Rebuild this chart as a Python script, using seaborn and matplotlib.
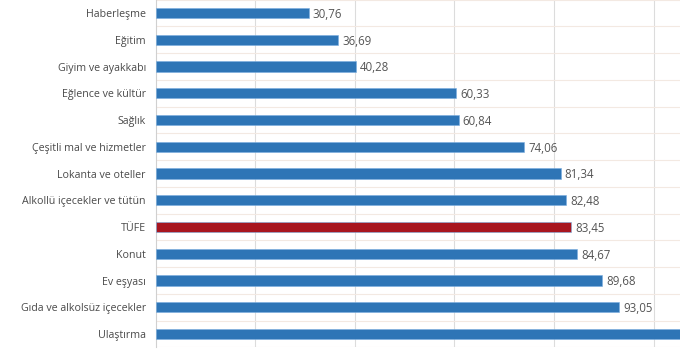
import matplotlib
matplotlib.use("Agg")
import matplotlib.pyplot as plt
import seaborn as sns
import pandas as pd
from matplotlib.ticker import FixedLocator

categories = ["Haberleşme", "Eğitim", "Giyim ve ayakkabı", "Eğlence ve kültür", "Sağlık",
              "Çeşitli mal ve hizmetler", "Lokanta ve oteller", "Alkollü içecekler ve tütün",
              "TÜFE", "Konut", "Ev eşyası", "Gıda ve alkolsüz içecekler", "Ulaştırma"]
values = [30.76, 36.69, 40.28, 60.33, 60.84, 74.06, 81.34, 82.48, 83.45, 84.67, 89.68, 93.05, 117.66]

BLUE = "#2e75b6"
RED = "#a8151f"
colors = [RED if c == "TÜFE" else BLUE for c in categories]

df = pd.DataFrame({"cat": categories, "val": values})

sns.set_theme(style="white")
plt.rcParams['font.family'] = ['Open Sans', 'DejaVu Sans']

fig = plt.figure(figsize=(6.8, 3.5), dpi=100)
ax = fig.add_axes([155.5/680, 0.0074, 524.5/680, 0.9936])

XMAX = 105.3
sns.barplot(data=df, x="val", y="cat", hue="cat", palette=colors, legend=False,
            saturation=1, width=0.38, ax=ax, edgecolor="#7aaee0", linewidth=0.4, zorder=3)

ax.set_xlim(0, XMAX)
ax.set_ylim(12.5, -0.5)
ax.set_xlabel("")
ax.set_ylabel("")

ax.xaxis.set_major_locator(FixedLocator([20, 40, 60, 80, 100]))
ax.set_xticklabels([])
ax.tick_params(axis="x", length=0)
ax.yaxis.set_minor_locator(FixedLocator([i + 0.5 for i in range(-1, 13)]))
ax.tick_params(axis="y", which="both", length=0, labelsize=7.7, colors="#4a4a4a", pad=7)

ax.grid(axis="x", which="major", color="#dcdcdc", linewidth=0.8, zorder=0)
ax.grid(axis="y", which="minor", color="#f3e9e2", linewidth=0.8, zorder=0)
ax.grid(axis="y", which="major", visible=False)

for s in ["top", "right", "bottom"]:
    ax.spines[s].set_visible(False)
ax.spines["left"].set_color("#d0d0d0")
ax.spines["left"].set_linewidth(0.8)

for i, v in enumerate(values):
    if v + 0.8 < XMAX:
        ax.text(v + 0.8, i + 0.05, f"{v:.2f}".replace(".", ","), va="center", ha="left",
                fontsize=8.3, color="#555555", clip_on=True)

fig.savefig("out.png", dpi=100)
